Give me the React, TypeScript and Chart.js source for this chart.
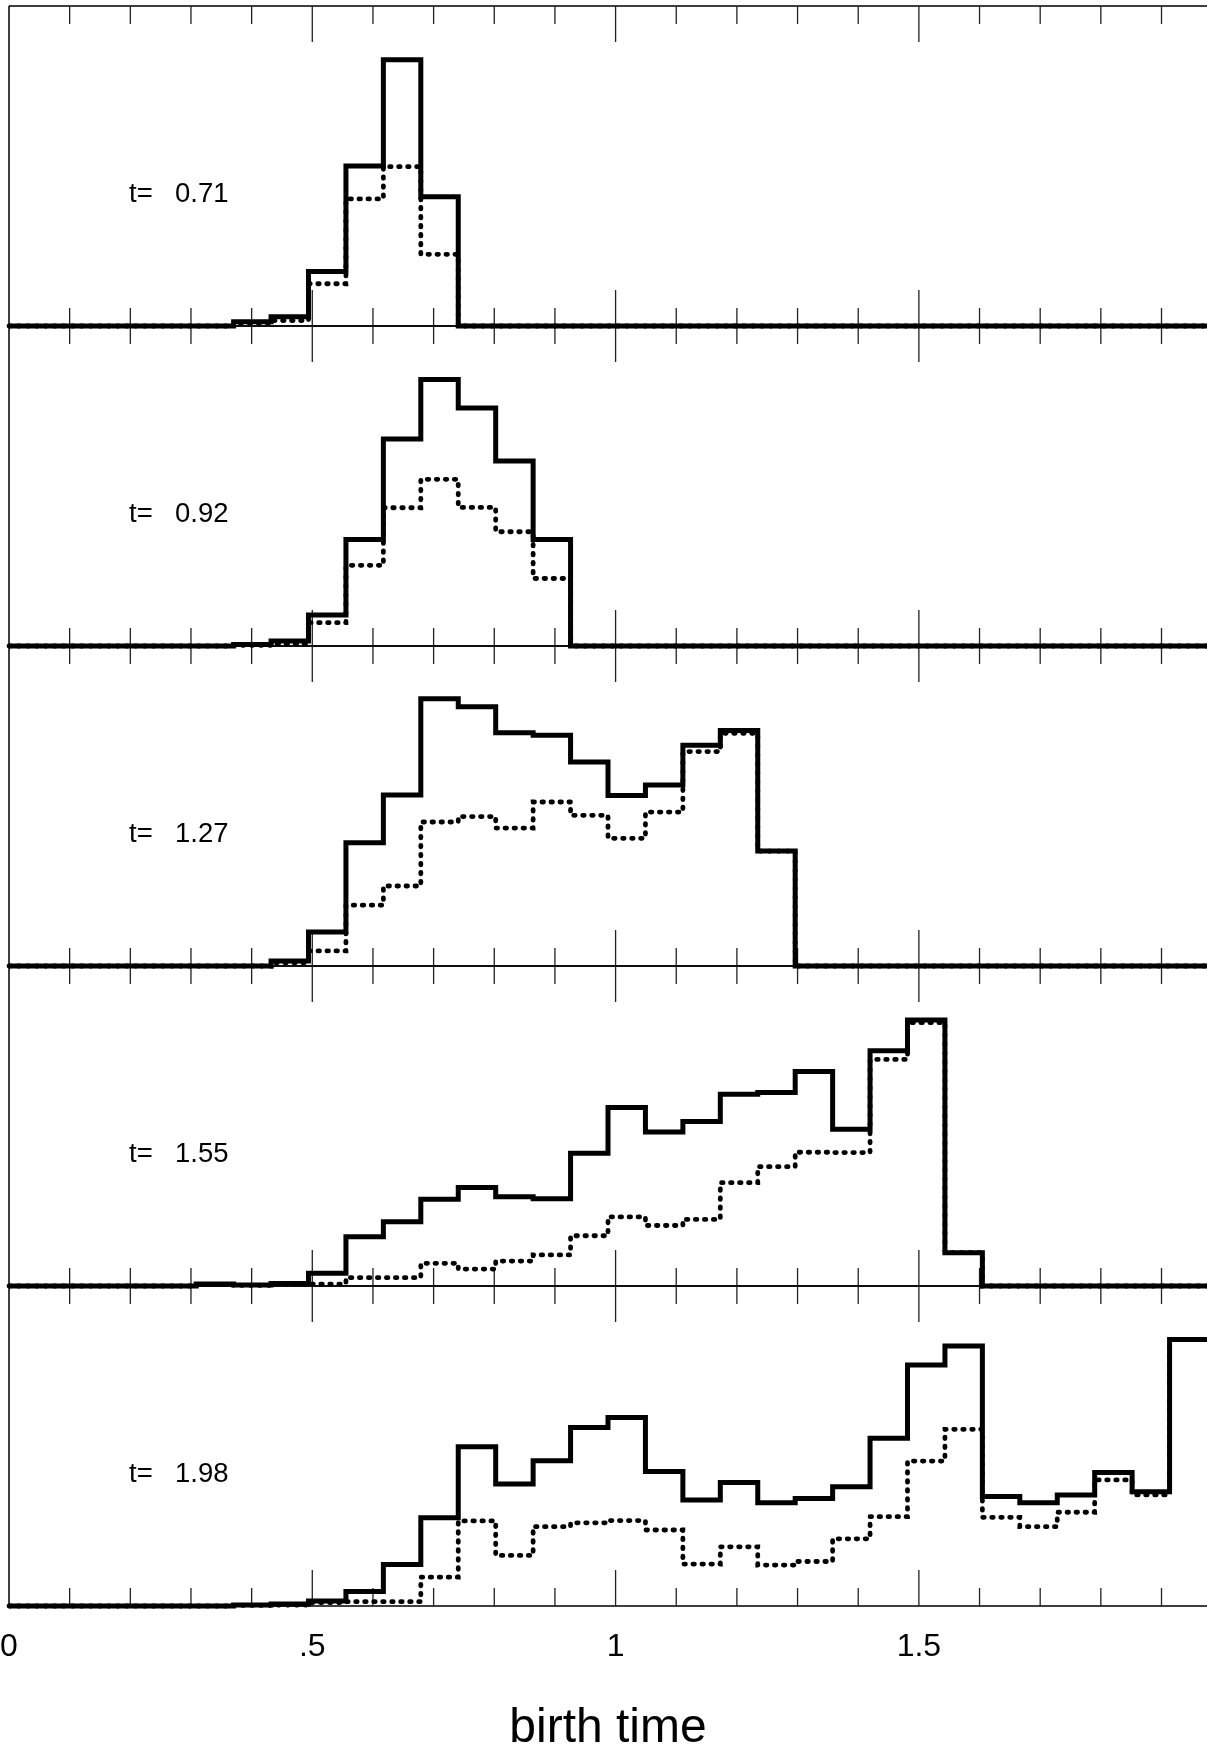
import React, { useEffect, useRef } from "react";
import { Chart, registerables } from "chart.js";

Chart.register(...registerables);

// ---------- data ----------
const binWidth = 1.975 / 32;
const xTickValues = [0, 0.5, 1, 1.5];
const xTickLabels = ["0", ".5", "1", "1.5"];
const panelTimes = ["0.71", "0.92", "1.27", "1.55", "1.98"];

// bin heights (0..100 of panel height), 32 bins each
const solid071 = [0, 0, 0, 0, 0, 0, 1.3, 2.9, 17, 50, 83.2, 40.4, 0, 0, 0, 0, 0, 0, 0, 0, 0, 0, 0, 0, 0, 0, 0, 0, 0, 0, 0, 0];
const dotted071 = [0, 0, 0, 0, 0, 0, 0.9, 1.7, 13.2, 39.7, 49.8, 22.4, 0, 0, 0, 0, 0, 0, 0, 0, 0, 0, 0, 0, 0, 0, 0, 0, 0, 0, 0, 0];

const solid092 = [0, 0, 0, 0, 0, 0, 0.5, 1.6, 9.7, 33.3, 64.7, 83.3, 74.4, 57.8, 33.3, 0, 0, 0, 0, 0, 0, 0, 0, 0, 0, 0, 0, 0, 0, 0, 0, 0];
const dotted092 = [0, 0, 0, 0, 0, 0, 0.2, 0.6, 7.3, 25.2, 43.2, 52.1, 43.3, 35.7, 21.1, 0, 0, 0, 0, 0, 0, 0, 0, 0, 0, 0, 0, 0, 0, 0, 0, 0];

const solid127 = [0, 0, 0, 0, 0, 0, 0, 1.6, 10.6, 38.5, 53.4, 83.5, 81, 72.9, 72.1, 63.75, 53.3, 56.6, 69, 73.6, 35.9, 0, 0, 0, 0, 0, 0, 0, 0, 0, 0, 0];
const dotted127 = [0, 0, 0, 0, 0, 0, 0, 1.0, 4.7, 19, 25, 45, 46.7, 43.1, 51.25, 47.1, 39.9, 48.1, 67, 72.7, 35.9, 0, 0, 0, 0, 0, 0, 0, 0, 0, 0, 0];

const solid155 = [0, 0, 0, 0, 0, 0.6, 0.3, 0.8, 4.0, 15.4, 20.1, 27.1, 30.8, 27.9, 27.3, 41.5, 55.8, 48.1, 51.4, 59.9, 60.5, 67, 49, 73.5, 83.1, 10.4, 0, 0, 0, 0, 0, 0];
const dotted155 = [0, 0, 0, 0, 0, 0.4, 0.2, 0.5, 0.6, 2.6, 2.6, 7.1, 5.3, 7.8, 9.7, 15.7, 21.6, 18.9, 20.8, 32.3, 37.3, 41.8, 41.7, 70.8, 82.3, 10.4, 0, 0, 0, 0, 0, 0];

const solid198 = [0, 0, 0, 0, 0, 0, 0.3, 0.6, 1.6, 4.5, 13, 27.6, 49.8, 38.1, 45.4, 55.8, 58.9, 42, 33.1, 38.6, 32.3, 33.6, 37.3, 52.4, 75.3, 81.25, 34.2, 32.3, 34.7, 41.7, 35.7, 83.3];
const dotted198 = [0, 0, 0, 0, 0, 0, 0.2, 0.3, 1.1, 1.35, 1.35, 9.0, 26.6, 15.8, 24.8, 26.0, 26.7, 23.75, 13.1, 18.5, 12.8, 13.9, 21.0, 27.9, 45.3, 55.2, 27.7, 24.8, 29.3, 39.4, 34.7, 83.3];

const solidSeries = [solid071, solid092, solid127, solid155, solid198];
const dottedSeries = [dotted071, dotted092, dotted127, dotted155, dotted198];

// ---------- helpers ----------
const FONT = "'Liberation Sans', Arial, Helvetica, sans-serif";
const panelIds = ["y0", "y1", "y2", "y3", "y4"];

function toPoints(vals: number[]) {
  const pts = vals.map((v, i) => ({ x: i * binWidth, y: v }));
  pts.push({ x: vals.length * binWidth, y: vals[vals.length - 1] });
  return pts;
}

const framePlugin = {
  id: "frame",
  beforeDatasetsDraw(chart: any) {
    const ctx = chart.ctx;
    const xs = chart.scales.x;
    const area = chart.chartArea;
    ctx.save();
    ctx.strokeStyle = "#000";
    ctx.lineWidth = 1.5;
    ctx.beginPath();
    ctx.moveTo(area.left, area.top);
    ctx.lineTo(area.left, area.bottom);
    ctx.stroke();
    panelIds.forEach((id, p) => {
      const ys = chart.scales[id];
      const top = ys.getPixelForValue(100);
      const base = ys.getPixelForValue(0);
      ctx.strokeStyle = "#000";
      ctx.lineWidth = 1.5;
      ctx.beginPath();
      ctx.moveTo(area.left, top);
      ctx.lineTo(area.right, top);
      ctx.moveTo(area.left, base);
      ctx.lineTo(area.right, base);
      ctx.stroke();
      ctx.strokeStyle = "#222";
      ctx.lineWidth = 1.3;
      ctx.beginPath();
      for (let i = 1; i < 20; i++) {
        const x = xs.getPixelForValue(i / 10);
        const len = i % 5 === 0 ? 36 : 18;
        ctx.moveTo(x, top);
        ctx.lineTo(x, top + len);
        ctx.moveTo(x, base);
        ctx.lineTo(x, base - len);
      }
      ctx.stroke();
      ctx.fillStyle = "#000";
      ctx.font = `27.5px ${FONT}`;
      ctx.textBaseline = "middle";
      ctx.textAlign = "left";
      const ly = ys.getPixelForValue(41);
      ctx.fillText("t=", area.left + 120, ly);
      ctx.fillText(panelTimes[p], area.left + 166, ly);
    });
    ctx.restore();
  },
};

export default function App() {
  const ref = useRef<HTMLCanvasElement | null>(null);

  useEffect(() => {
    if (!ref.current) return;
    const datasets: any[] = [];
    panelIds.forEach((id, k) => {
      datasets.push({
        data: toPoints(dottedSeries[k]),
        yAxisID: id,
        borderColor: "#000",
        borderWidth: 4.8,
        borderDash: [1.5, 7.5],
        borderCapStyle: "round",
        stepped: "before",
        pointRadius: 0,
        fill: false,
        tension: 0,
        clip: false,
      });
      datasets.push({
        data: toPoints(solidSeries[k]),
        yAxisID: id,
        borderColor: "#000",
        borderWidth: 5,
        borderCapStyle: "butt",
        borderJoinStyle: "miter",
        stepped: "before",
        pointRadius: 0,
        fill: false,
        tension: 0,
        clip: false,
      });
    });

    const scales: any = {
      x: {
        type: "linear",
        position: "bottom",
        min: 0,
        max: 1.975,
        grid: { display: false, drawTicks: false },
        border: { display: false },
        afterBuildTicks: (s: any) => {
          s.ticks = xTickValues.map((v) => ({ value: v }));
        },
        afterFit: (s: any) => {
          s.height = 140;
          s.paddingLeft = 0;
          s.paddingRight = 0;
        },
        ticks: {
          autoSkip: false,
          maxRotation: 0,
          padding: 22,
          color: "#000",
          font: { family: FONT, size: 32 },
          callback: (_v: any, i: number) => xTickLabels[i],
        },
        title: {
          display: true,
          text: "birth time",
          color: "#000",
          font: { family: FONT, size: 48 },
          padding: { top: 0, bottom: -12 },
        },
      },
    };
    panelIds.forEach((id, k) => {
      scales[id] = {
        type: "linear",
        position: "left",
        stack: "panels",
        stackWeight: 1,
        weight: 5 - k,
        min: 0,
        max: 100,
        display: true,
        grid: { display: false, drawTicks: false },
        border: { display: false },
        ticks: { display: false },
        afterFit: (s: any) => {
          s.width = 0;
        },
      };
    });

    const chart = new Chart(ref.current, {
      type: "line",
      data: { datasets },
      options: {
        animation: false,
        responsive: false,
        maintainAspectRatio: false,
        devicePixelRatio: 1,
        layout: { padding: { left: 9, top: 6, right: 0, bottom: 0 } },
        plugins: { legend: { display: false }, tooltip: { enabled: false } },
        events: [],
        scales,
      },
      plugins: [framePlugin],
    } as any);
    return () => chart.destroy();
  }, []);

  return (
    <div style={{ position: "absolute", left: 0, top: 0, width: 1207, height: 1746, background: "#fff" }}>
      <canvas ref={ref} width={1207} height={1746} style={{ display: "block" }} />
    </div>
  );
}
